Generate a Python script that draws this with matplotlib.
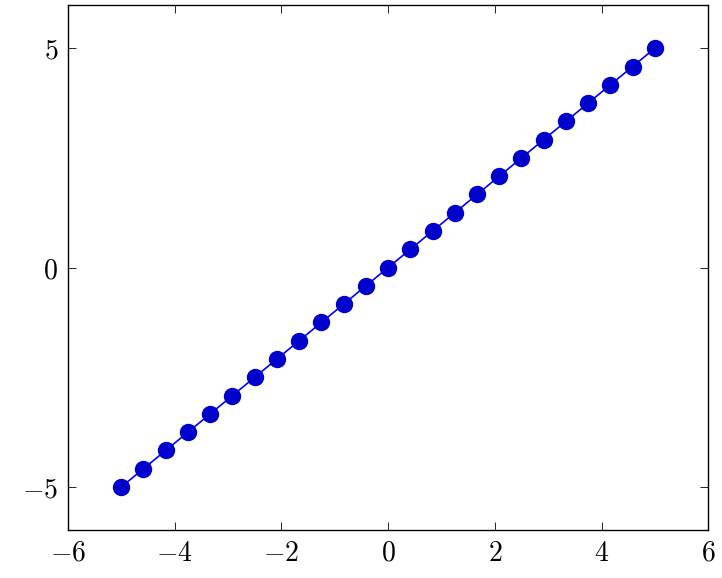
import matplotlib
matplotlib.use('Agg')
import matplotlib.pyplot as plt

plt.rcParams['mathtext.fontset'] = 'cm'
plt.rcParams['font.family'] = 'serif'
plt.rcParams['font.serif'] = ['DejaVu Serif']

# samples of y = x
xs = [-5.0, -4.583, -4.167, -3.75, -3.333, -2.917, -2.5, -2.083, -1.667, -1.25,
      -0.833, -0.417, 0.0, 0.417, 0.833, 1.25, 1.667, 2.083, 2.5, 2.917,
      3.333, 3.75, 4.167, 4.583, 5.0]
ys = [-5.0, -4.583, -4.167, -3.75, -3.333, -2.917, -2.5, -2.083, -1.667, -1.25,
      -0.833, -0.417, 0.0, 0.417, 0.833, 1.25, 1.667, 2.083, 2.5, 2.917,
      3.333, 3.75, 4.167, 4.583, 5.0]
xticks = [-6, -4, -2, 0, 2, 4, 6]
yticks = [-5, 0, 5]

fig = plt.figure(figsize=(7.22, 5.78), dpi=100)
ax = fig.add_axes([0.094, 0.083, 0.887, 0.908])
ax.plot(xs, ys, color='blue', lw=1.2, marker='o', ms=11.5,
        markerfacecolor=(0, 0, 0.8), markeredgecolor=(0, 0, 0.8))
ax.set_xlim(-6, 6)
ax.set_ylim(-5.98, 5.98)
ax.set_xticks(xticks)
ax.set_yticks(yticks)
ax.set_xticklabels(['$%d$' % t if t >= 0 else r'$-%d$' % -t for t in xticks])
ax.set_yticklabels(['$%d$' % t if t >= 0 else r'$-%d$' % -t for t in yticks])
ax.tick_params(direction='in', top=True, right=True, length=6, width=0.6,
               labelsize=20, pad=7)
for s in ax.spines.values():
    s.set_linewidth(1.0)

fig.savefig('out.png', dpi=100)
